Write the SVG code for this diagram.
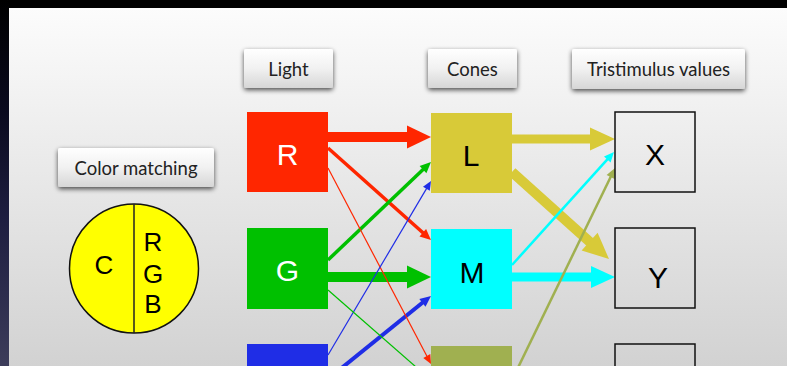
<svg xmlns="http://www.w3.org/2000/svg" width="787" height="366" viewBox="0 0 787 366">
  <defs>
    <linearGradient id="slideBg" x1="0" y1="0" x2="0" y2="1">
      <stop offset="0" stop-color="#fcfcfc"/>
      <stop offset="1" stop-color="#d2d2d2"/>
    </linearGradient>
    <linearGradient id="edgeBg" x1="0" y1="0" x2="0" y2="1">
      <stop offset="0" stop-color="#000000"/>
      <stop offset="0.3" stop-color="#0a0a1e"/>
      <stop offset="0.6" stop-color="#1e1e40"/>
      <stop offset="1" stop-color="#3c3c5a"/>
    </linearGradient>
    <linearGradient id="btnFill" x1="0" y1="0" x2="0" y2="1">
      <stop offset="0" stop-color="#ffffff"/>
      <stop offset="0.5" stop-color="#f1f1f1"/>
      <stop offset="1" stop-color="#d6d6d6"/>
    </linearGradient>
    <filter id="btnShadow" x="-20%" y="-30%" width="140%" height="170%">
      <feGaussianBlur in="SourceAlpha" stdDeviation="2.4"/>
      <feOffset dy="2" result="blur"/>
      <feComponentTransfer><feFuncA type="linear" slope="0.7"/></feComponentTransfer>
      <feMerge><feMergeNode/><feMergeNode in="SourceGraphic"/></feMerge>
    </filter>
    <style>
      .btn rect { fill: url(#btnFill); filter: url(#btnShadow); }
      .btn text { font-family: Lato, "Open Sans", sans-serif; font-size: 18.5px; fill: #222; text-anchor: middle; }
      .big { font-family: "Liberation Sans", Arial, sans-serif; font-size: 30px; text-anchor: middle; }
      .mid { font-family: "Liberation Sans", Arial, sans-serif; font-size: 26px; text-anchor: middle; fill: #000; }
      .out { fill: none; stroke: #111; stroke-width: 1.5; }
    </style>
  </defs>

  <!-- backdrop -->
  <rect x="0" y="0" width="787" height="366" fill="#000"/>
  <rect x="0" y="0" width="9" height="366" fill="url(#edgeBg)"/>
  <rect x="9" y="8" width="778" height="358" fill="url(#slideBg)"/>

  <!-- column headers -->
  <g id="hdr-color-matching" class="btn">
    <rect x="58" y="148" width="156" height="39" rx="2"/>
    <text x="136" y="175">Color matching</text>
  </g>
  <g id="hdr-light" class="btn">
    <rect x="244" y="49" width="89" height="39" rx="2"/>
    <text x="288.5" y="76">Light</text>
  </g>
  <g id="hdr-cones" class="btn">
    <rect x="428" y="49" width="89" height="39" rx="2"/>
    <text x="472.5" y="76">Cones</text>
  </g>
  <g id="hdr-tristimulus" class="btn">
    <rect x="572" y="49" width="173" height="40" rx="2"/>
    <text x="658.5" y="76">Tristimulus values</text>
  </g>

  <!-- color matching field -->
  <g id="matching-field">
    <circle cx="134" cy="268.5" r="64.5" fill="#ffff00" stroke="#111" stroke-width="1.5"/>
    <line x1="134" y1="204" x2="134" y2="333" stroke="#222" stroke-width="1.5"/>
    <text class="mid" x="104" y="274">C</text>
    <text class="mid" x="153" y="251">R</text>
    <text class="mid" x="153" y="283">G</text>
    <text class="mid" x="153" y="313">B</text>
  </g>

  <!-- connectors -->
  <g id="connectors">
    <!-- light to cones -->
    <line x1="328" y1="137" x2="409" y2="137" stroke="#ff2600" stroke-width="10"/>
    <polygon points="407,125.5 431,137 407,148.5" fill="#ff2600"/>
    <line x1="328" y1="277" x2="409" y2="277" stroke="#00c000" stroke-width="10"/>
    <polygon points="407,265.5 431,277 407,288.5" fill="#00c000"/>

    <line x1="328" y1="148" x2="423.5" y2="233.3" stroke="#ff2600" stroke-width="3.5"/>
    <polygon points="419.5,236.4 431,240 426.1,229" fill="#ff2600"/>
    <line x1="328" y1="260" x2="423.6" y2="169" stroke="#00c000" stroke-width="3.5"/>
    <polygon points="426.4,173.2 431,162 419.6,166" fill="#00c000"/>
    <line x1="328" y1="379" x2="423" y2="302.3" stroke="#1f2de6" stroke-width="4"/>
    <polygon points="425.5,306.7 431,296 419.3,298.9" fill="#1f2de6"/>

    <line x1="328" y1="168" x2="427.2" y2="356.8" stroke="#ff2600" stroke-width="1.2"/>
    <polygon points="423.3,357.9 431,364 430.3,354.1" fill="#ff2600"/>
    <line x1="328" y1="355" x2="426.8" y2="188.1" stroke="#1f2de6" stroke-width="1.2"/>
    <polygon points="429.8,190.7 431,181 423,186.7" fill="#1f2de6"/>
    <line x1="328" y1="290" x2="424" y2="374" stroke="#00c000" stroke-width="1.2"/>
    <polygon points="421.6,375.2 431,380 426.9,369.2" fill="#00c000"/>

    <!-- cones to tristimulus values -->
    <line x1="512" y1="139" x2="592" y2="139" stroke="#d8ca38" stroke-width="9"/>
    <polygon points="590,127.5 615,139 590,150.5" fill="#d8ca38"/>
    <line x1="512" y1="172" x2="591" y2="243" stroke="#d8ca38" stroke-width="10"/>
    <polygon points="581.6,250.5 609,259 597.6,232.7" fill="#d8ca38"/>
    <line x1="512" y1="277" x2="593" y2="277" stroke="#00ffff" stroke-width="9"/>
    <polygon points="591,266 615,277 591,288" fill="#00ffff"/>

    <line x1="512" y1="265" x2="607.8" y2="158.9" stroke="#00ffff" stroke-width="2.5"/>
    <polygon points="610.6,162.4 614,152 604,156.4" fill="#00ffff"/>
    <line x1="512" y1="380" x2="611" y2="176.2" stroke="#a0b050" stroke-width="2.5"/>
    <polygon points="614.6,179 615,168 606.6,175" fill="#a0b050"/>
  </g>

  <!-- light sources -->
  <g id="light-r">
    <rect x="247" y="112" width="81" height="80" fill="#ff2600"/>
    <text class="big" x="287.5" y="165" fill="#fff">R</text>
  </g>
  <g id="light-g">
    <rect x="247" y="228" width="81" height="81" fill="#00c000"/>
    <text class="big" x="287.5" y="281" fill="#fff">G</text>
  </g>
  <g id="light-b">
    <rect x="247" y="344" width="81" height="81" fill="#1f2de6"/>
  </g>

  <!-- cones -->
  <g id="cone-l">
    <rect x="431" y="113" width="81" height="80" fill="#d8ca38"/>
    <text class="big" x="471" y="166" fill="#000">L</text>
  </g>
  <g id="cone-m">
    <rect x="431" y="229" width="81" height="80" fill="#00ffff"/>
    <text class="big" x="472" y="283" fill="#000">M</text>
  </g>
  <g id="cone-s">
    <rect x="431" y="346" width="81" height="80" fill="#a0b050"/>
  </g>

  <!-- tristimulus values -->
  <g id="value-x">
    <rect class="out" x="615" y="112" width="80" height="80"/>
    <text class="big" x="655" y="165" fill="#000">X</text>
  </g>
  <g id="value-y">
    <rect class="out" x="615" y="228" width="80" height="80"/>
    <text class="big" x="658" y="288" fill="#000">Y</text>
  </g>
  <g id="value-z">
    <rect class="out" x="615" y="344" width="80" height="80"/>
  </g>
</svg>
